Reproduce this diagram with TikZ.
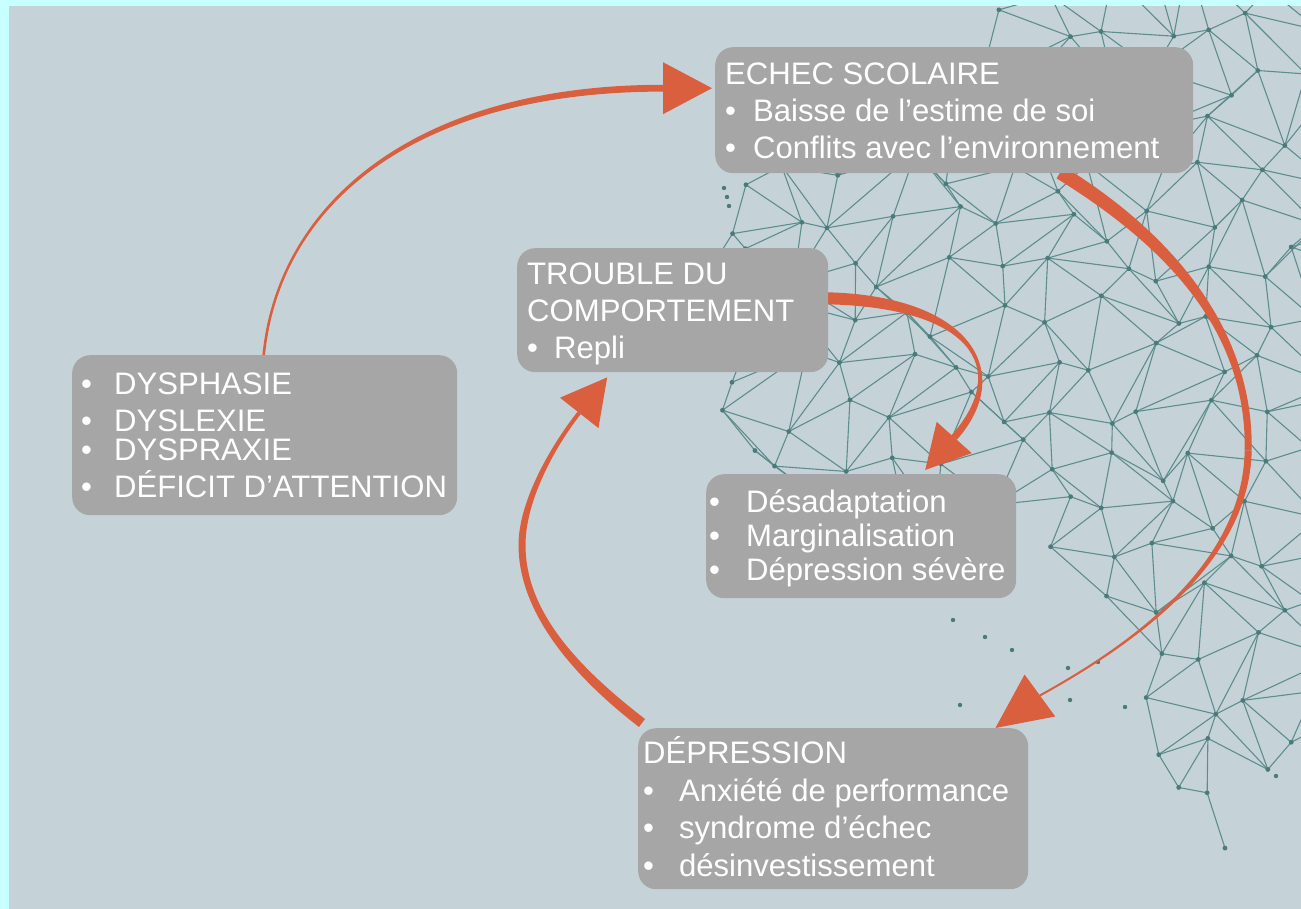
\documentclass[tikz,border=0pt]{standalone}
\usepackage{fontspec}
\setmainfont{Liberation Sans}
\usetikzlibrary{calc}
\definecolor{cyanbord}{HTML}{C8FFFF}
\definecolor{bgblue}{HTML}{C5D3D9}
\definecolor{boxgray}{HTML}{A6A6A6}
\definecolor{arrowc}{HTML}{D95F3E}
\definecolor{meshc}{HTML}{5E8D8D}
\definecolor{dotc}{HTML}{4A7A7A}
\pgfdeclarelayer{bg}
\pgfsetlayers{bg,main}
% tapered stroke along one cubic: P0,P1,P2,P3, half width at start, half width at end
\newcommand\taperseg[6]{%
 \fill[arrowc] ($(#1)!#5!90:(#2)$) .. controls ($(#2)!#5!-90:(#1)$) and ($(#3)!#6!90:(#4)$) .. ($(#4)!#6!-90:(#3)$)
  -- ($(#4)!#6!90:(#3)$) .. controls ($(#3)!#6!-90:(#4)$) and ($(#2)!#5!90:(#1)$) .. ($(#1)!#5!-90:(#2)$) -- cycle;}
% arrow head: base centre, tip, half width
\newcommand\ahead[3]{\fill[arrowc] (#2) -- ($(#1)!#3!90:(#2)$) -- ($(#1)!#3!-90:(#2)$) -- cycle;}
\newcommand\btext[3]{\makebox[#1pt][l]{\hspace{#2pt}\raisebox{-3.6pt}[\height][\depth]{#3}}}
\newcommand\mfl[2]{\csname mf#1-#2\endcsname}
\tikzset{
 box/.style={fill=boxgray, rounded corners=18pt, inner sep=0pt, anchor=north west,
   text=white, font=\fontsize{31.1}{37.5}\selectfont},
 meshline/.style={draw=meshc, line width=1.1pt},
}
\begin{document}
\begin{tikzpicture}[x=1pt,y=-1pt]
\useasboundingbox (0,0) rectangle (1301,909);

% ---- boxes ----
\node[box, minimum width=478pt, minimum height=126pt, font=\fontsize{31.1}{37}\selectfont] (echec) at (715,47)
 {\btext{478}{10}{\begin{tabular}{@{}l@{\hspace{17pt}}l@{}}
  \multicolumn{2}{@{}l@{}}{ECHEC SCOLAIRE}\\
  •&Baisse de l’estime de soi\\
  •&Conflits avec l’environnement\end{tabular}}};

\node[box, minimum width=385pt, minimum height=160pt, font=\fontsize{31.1}{37}\selectfont] (dys) at (72,355)
 {\btext{385}{9}{\begin{tabular}{@{}l@{\hspace{22pt}}l@{}}
  •&DYSPHASIE\\
  •&DYSLEXIE\\[-8pt]
  •&DYSPRAXIE\\[-1pt]
  •&DÉFICIT D’ATTENTION\end{tabular}}};

\node[box, minimum width=311pt, minimum height=124pt, font=\fontsize{31.1}{37}\selectfont] (trouble) at (517,248)
 {\btext{311}{10}{\begin{tabular}{@{}l@{\hspace{16pt}}l@{}}
  \multicolumn{2}{@{}l@{}}{TROUBLE DU}\\
  \multicolumn{2}{@{}l@{}}{COMPORTEMENT}\\
  •&Repli\end{tabular}}};

\node[box, minimum width=310pt, minimum height=124pt, font=\fontsize{31.1}{34}\selectfont] (desad) at (706,474)
 {\btext{310}{3}{\begin{tabular}{@{}l@{\hspace{26pt}}l@{}}
  •&Désadaptation\\
  •&Marginalisation\\
  •&Dépression sévère\end{tabular}}};

\node[box, minimum width=390pt, minimum height=161pt] (depr) at (638,728)
 {\btext{390}{5}{\begin{tabular}{@{}l@{\hspace{25pt}}l@{}}
  \multicolumn{2}{@{}l@{}}{DÉPRESSION}\\
  •&Anxiété de performance\\
  •&syndrome d’échec\\
  •&désinvestissement\end{tabular}}};

\begin{pgfonlayer}{bg}
\fill[cyanbord] (0,0) rectangle (1301,909);
\fill[bgblue] (9,6) rectangle (1301,909);

% ---- network mesh ----
\begin{scope}
\clip (9,6) rectangle (1301,909);
\foreach \i in {0,...,13}{
 \foreach \j in {0,...,19}{
  \pgfmathsetmacro\px{690+\i*52+14*sin(mod(\i*137+\j*251,360))+9*sin(mod(\i*311+\j*73+50,360))}
  \pgfmathsetmacro\py{-20+\j*48+13*cos(mod(\i*197+\j*113,360))+9*sin(mod(\i*61+\j*277+20,360))}
  \pgfmathsetmacro\xl{(\py<170)*(1000-1.7*\py)+(\py>=170)*(\py<470)*705+(\py>=470)*(\py<630)*(705+(\py-470)*2.6)+(\py>=630)*(1120+(\py-630)*0.3)}
  \pgfmathsetmacro\xr{(\py<700)*1500+(\py>=700)*(1330-(\py-700)*0.7)}
  \pgfmathtruncatemacro\flag{(\px>=\xl)*(\px<=\xr)*(\py<=880)}
  \coordinate (p\i-\j) at (\px,\py);
  \expandafter\xdef\csname mf\i-\j\endcsname{\flag}
 }
}
\foreach \i in {0,...,12}{
 \foreach \j in {0,...,18}{
  \pgfmathtruncatemacro\ii{\i+1}
  \pgfmathtruncatemacro\jj{\j+1}
  \pgfmathtruncatemacro\dg{mod(\i*7+\j*3+\i*\j,3)}
  \ifnum\mfl{\i}{\j}\mfl{\ii}{\j}=11\relax \draw[meshline] (p\i-\j) -- (p\ii-\j);\fi
  \ifnum\mfl{\i}{\j}\mfl{\i}{\jj}=11\relax \draw[meshline] (p\i-\j) -- (p\i-\jj);\fi
  \ifnum\dg=0\relax
   \ifnum\mfl{\ii}{\j}\mfl{\i}{\jj}=11\relax \draw[meshline] (p\ii-\j) -- (p\i-\jj);\fi
  \else
   \ifnum\mfl{\i}{\j}\mfl{\ii}{\jj}=11\relax \draw[meshline] (p\i-\j) -- (p\ii-\jj);\fi
  \fi
 }
}
\foreach \i in {0,...,13}{
 \foreach \j in {0,...,19}{
  \ifnum\mfl{\i}{\j}=1\relax \fill[dotc] (p\i-\j) circle (2.4);\fi
 }
}
\foreach \q in {(724,188),(727,197),(729,206),(953,620),(985,637),(1012,650),(1068,668),(1098,662),(1070,700),(1125,707),(1276,776),(960,705)}
 \fill[dotc] \q circle (2.2);
\end{scope}

% ---- arrows ----
% dys -> echec
\coordinate (a1s) at ($(dys.north)+(-1,0)$);
\coordinate (t1) at ($(echec.west)+(-3,-22)$);
\coordinate (b1) at ($(t1)+(-49,0)$);
\coordinate (a1c1) at ($(a1s)+(15,-150)$);
\coordinate (a1c2) at ($(b1)+(-250,0)$);
\taperseg{a1s}{a1c1}{a1c2}{b1}{1.3pt}{3.4pt}
\ahead{b1}{t1}{26pt}

% echec -> depr
\coordinate (a2s) at ($(echec.south)+(106,-1)$);
\coordinate (a2c1) at ($(a2s)+(110,68)$);
\coordinate (a2m) at ($(echec.south)+(294,277)$);
\coordinate (a2c2) at ($(a2m)+(2,-120)$);
\coordinate (a2c3) at ($(a2m)+(-2,110)$);
\coordinate (t2) at ($(depr.north east)+(-33,0)$);
\coordinate (b2) at ($(t2)+(44.5,-32.5)$);
\coordinate (a2c4) at ($(b2)+(100.5,-55.5)$);
\taperseg{a2s}{a2c1}{a2c2}{a2m}{7pt}{3.5pt}
\taperseg{a2m}{a2c3}{a2c4}{b2}{3.5pt}{1pt}
\ahead{b2}{t2}{26pt}

% trouble -> desad
\coordinate (a3s) at ($(trouble.east)+(-6,-12)$);
\coordinate (a3c1) at ($(a3s)+(148,2)$);
\coordinate (t3) at ($(desad.north)+(64,-4)$);
\coordinate (b3) at ($(t3)+(29,-32.5)$);
\coordinate (a3c2) at ($(b3)+(60,-68)$);
\taperseg{a3s}{a3c1}{a3c2}{b3}{6pt}{3.5pt}
\ahead{b3}{t3}{23.5pt}

% depr -> trouble
\coordinate (a4s) at ($(depr.north west)+(4,-5)$);
\coordinate (a4c1) at ($(a4s)+(-70,-54)$);
\coordinate (a4m) at ($(depr.north west)+(-116,-183)$);
\coordinate (a4c2) at ($(a4m)+(0,65)$);
\coordinate (a4c3) at ($(a4m)+(0,-45)$);
\coordinate (t4) at ($(trouble.south)+(-65.5,5)$);
\coordinate (b4) at ($(t4)+(-28,35.5)$);
\coordinate (a4c4) at ($(b4)+(-25,31.5)$);
\taperseg{a4s}{a4c1}{a4c2}{a4m}{5pt}{3.5pt}
\taperseg{a4m}{a4c3}{a4c4}{b4}{3.5pt}{2pt}
\ahead{b4}{t4}{24.5pt}
\end{pgfonlayer}
\end{tikzpicture}
\end{document}
